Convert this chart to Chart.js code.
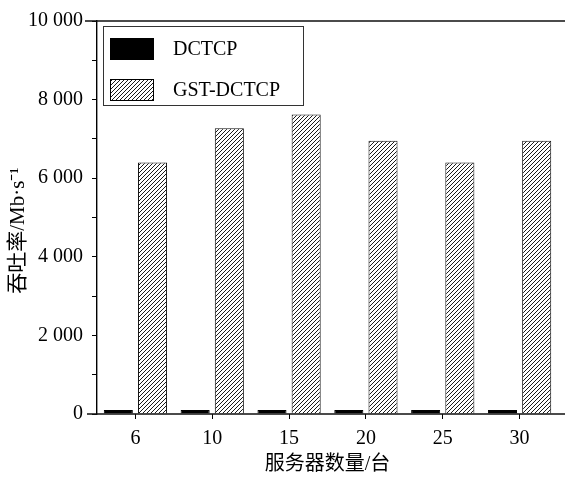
<!DOCTYPE html>
<html><head><meta charset="utf-8">
<script src="https://cdn.jsdelivr.net/npm/chart.js@4/dist/chart.umd.min.js"></script>
<style>html,body{margin:0;padding:0;background:#fff}#wrap{width:565px;height:477px}</style>
</head><body><div id="wrap"><canvas id="c" width="565" height="477"></canvas></div>
<script>
const categories = ['6', '10', '15', '20', '25', '30'];
const dctcp = [100, 100, 100, 100, 100, 100];
const gstDctcp = [6400, 7270, 7620, 6950, 6400, 6950];
const yTickLabels = [0, 2000, 4000, 6000, 8000, 10000];
const seriesNames = ['DCTCP', 'GST-DCTCP'];
const xTitle = '服务器数量/台';
const yTitle = '吞吐率/Mb·s⁻¹';

function makeHatch() {
  const s = 4;
  const c = document.createElement('canvas');
  c.width = s; c.height = s;
  const g = c.getContext('2d');
  g.fillStyle = '#fff'; g.fillRect(0, 0, s, s);
  g.strokeStyle = '#1a1a1a'; g.lineWidth = 1;
  g.beginPath();
  g.moveTo(0, s); g.lineTo(s, 0);
  g.moveTo(-1, 1); g.lineTo(1, -1);
  g.moveTo(s - 1, s + 1); g.lineTo(s + 1, s - 1);
  g.stroke();
  return document.getElementById('c').getContext('2d').createPattern(c, 'repeat');
}
const hatch = makeHatch();
const fmt = v => String(v).replace(/\B(?=(\d{3})+(?!\d))/g, ' ');
const serif = '"Liberation Serif", "Times New Roman", serif';
const mixed = '"Liberation Serif", "Noto Sans CJK SC", serif';

const bgPlugin = {
  id: 'bg',
  beforeDraw(chart) {
    const ctx = chart.ctx;
    ctx.save(); ctx.fillStyle = '#fff'; ctx.fillRect(0, 0, chart.width, chart.height); ctx.restore();
  }
};
const framePlugin = {
  id: 'frame',
  afterDraw(chart) {
    const ctx = chart.ctx, a = chart.chartArea;
    ctx.save();
    ctx.strokeStyle = '#111'; ctx.lineWidth = 1.4;
    ctx.beginPath();
    ctx.moveTo(a.left - 12, a.top); ctx.lineTo(chart.width, a.top);
    ctx.moveTo(a.left - 10, a.bottom); ctx.lineTo(chart.width, a.bottom);
    ctx.stroke();
    // legend
    const lx = a.left + 6, ly = a.top + 5, lw = 200, lh = 79;
    ctx.lineWidth = 1; ctx.strokeStyle = '#333';
    ctx.strokeRect(lx + 0.5, ly + 0.5, lw, lh);
    const ds = chart.data.datasets;
    const rows = [ly + 23, ly + 64];
    ds.forEach((d, i) => {
      const cy = rows[i];
      ctx.fillStyle = d.backgroundColor;
      ctx.fillRect(lx + 7, cy - 11, 44, 22);
      ctx.strokeStyle = '#000'; ctx.lineWidth = 1;
      ctx.strokeRect(lx + 7.5, cy - 10.5, 43, 21);
      ctx.fillStyle = '#000';
      ctx.font = '20px ' + serif;
      ctx.textBaseline = 'middle'; ctx.textAlign = 'left';
      ctx.fillText(d.label, lx + 70, cy + 1);
    });
    ctx.restore();
  }
};

new Chart(document.getElementById('c'), {
  type: 'bar',
  data: {
    labels: categories,
    datasets: [
      { label: seriesNames[0], data: dctcp, backgroundColor: '#000', borderColor: '#000', borderWidth: 1 },
      { label: seriesNames[1], data: gstDctcp, backgroundColor: hatch, borderColor: '#111', borderWidth: 1 }
    ]
  },
  options: {
    responsive: false, animation: false, devicePixelRatio: 1,
    categoryPercentage: 0.89, barPercentage: 0.85,
    layout: { padding: { top: 17, right: 7, bottom: 0, left: 0 } },
    plugins: { legend: { display: false }, tooltip: { enabled: false } },
    scales: {
      x: {
        offset: true,
        grid: { display: true, drawOnChartArea: false, drawTicks: true, tickLength: 5, offset: false, color: '#000', lineWidth: 1 },
        border: { display: false },
        ticks: { padding: 8, color: '#000', font: { family: serif, size: 20 }, maxRotation: 0 },
        title: { display: true, text: xTitle, color: '#000', font: { family: mixed, size: 20 }, padding: { top: 0, bottom: 0 } },
        afterFit(s) { s.height = 63; }
      },
      y: {
        min: 0, max: 10000,
        grid: { display: true, drawOnChartArea: false, drawTicks: true, tickLength: 5, color: '#000', lineWidth: 1 },
        border: { display: true, color: '#000', width: 1.4 },
        ticks: {
          stepSize: 1000, padding: 9, color: '#000', font: { family: serif, size: 20 },
          callback: v => yTickLabels.includes(v) ? fmt(v) : ''
        },
        title: { display: true, text: yTitle + '     ', color: '#000', font: { family: mixed, size: 21 }, padding: { top: 6, bottom: 0 } },
        afterFit(s) { s.width = 97; }
      }
    }
  },
  plugins: [bgPlugin, framePlugin]
});
</script>
</body></html>
